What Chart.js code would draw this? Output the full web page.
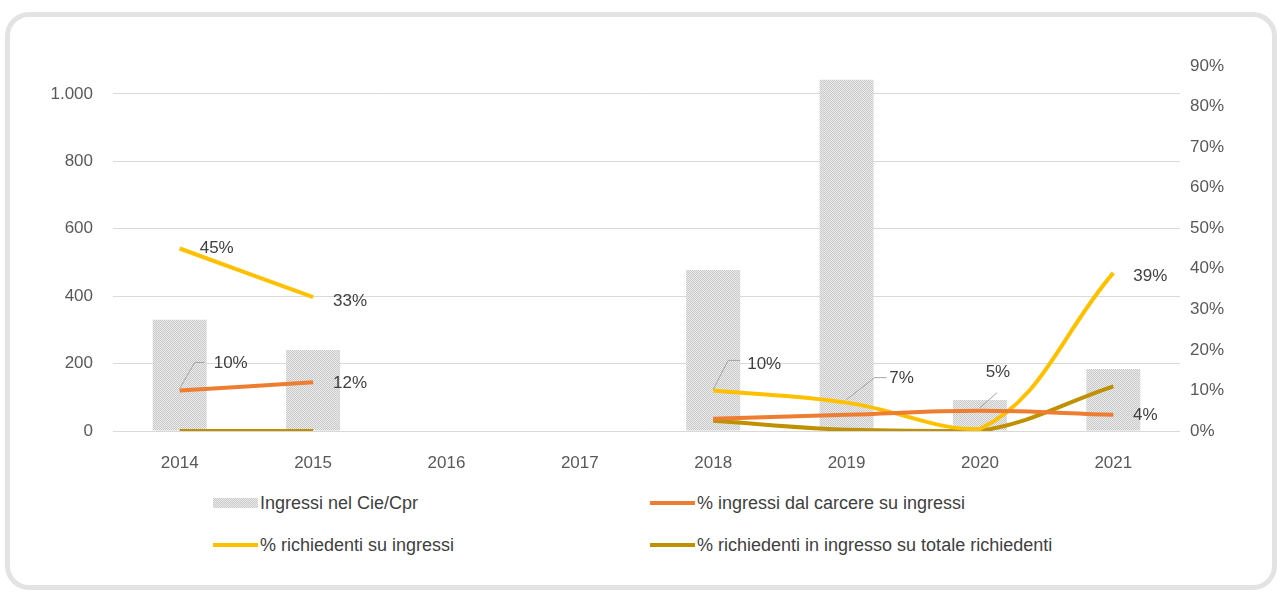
<!DOCTYPE html>
<html>
<head>
<meta charset="utf-8">
<script src="https://cdn.jsdelivr.net/npm/chart.js@4"></script>
<style>
  body { margin: 0; background: #fff; font-family: "Liberation Sans", Arial, sans-serif; }
  #card { position: absolute; left: 5px; top: 12px; width: 1262px; height: 568px; border: 5px solid #e3e3e3; border-radius: 24px; }
  #wrap { position: absolute; left: 0; top: 0; width: 1277px; height: 481px; }
  #legend { position: absolute; left: 0; top: 0; width: 1277px; }
  .item { position: absolute; display: flex; align-items: center; font-size: 18px; color: #404040; white-space: nowrap; }
  .sw { width: 45px; margin-right: 2px; }
</style>
</head>
<body>
<div id="card"></div>
<div id="wrap"><canvas id="myChart"></canvas></div>
<div id="legend"></div>
<script>
// data
var years = ['2014', '2015', '2016', '2017', '2018', '2019', '2020', '2021'];
var ingressi = [330, 240, null, null, 478, 1042, 92, 184];
var carcere = [10, 12, null, null, 3, 4, 5, 4];
var richiedenti = [45, 33, null, null, 10, 7, 0.5, 39];
var richiedentiTot = [0, 0, null, null, 2.5, 0.3, 0, 11];
var leftTicks = [0, 200, 400, 600, 800, 1000];

// dotted fill for the bars
var pc = document.createElement('canvas');
pc.width = 2; pc.height = 2;
var px = pc.getContext('2d');
px.fillStyle = '#ebebeb';
px.fillRect(0, 0, 2, 2);
px.fillStyle = '#c9c9c9';
px.fillRect(0, 0, 1, 1);
px.fillRect(1, 1, 1, 1);
var ctx = document.getElementById('myChart').getContext('2d');
var dots = ctx.createPattern(pc, 'repeat');

// which points carry a value label, and where it sits
var labelSpots = [
  { ds: 2, i: 0, dx: 37, dy: 0 },
  { ds: 2, i: 1, dx: 37, dy: 4 },
  { ds: 1, i: 0, dx: 51, dy: -27, leader: [[0, -2], [15, -28], [25, -28]] },
  { ds: 1, i: 1, dx: 37, dy: 1 },
  { ds: 2, i: 4, dx: 51, dy: -26, leader: [[0, -1], [15, -30], [27, -30]] },
  { ds: 2, i: 5, dx: 55, dy: -24, leader: [[0, -3], [28, -25], [40, -25]] },
  { ds: 1, i: 6, dx: 18, dy: -38, leader: [[0, -3], [17, -18]] },
  { ds: 2, i: 7, dx: 37, dy: 3 },
  { ds: 1, i: 7, dx: 32, dy: 1 }
];

var valueLabels = {
  id: 'valueLabels',
  afterDatasetsDraw: function (chart) {
    var c = chart.ctx;
    c.save();
    labelSpots.forEach(function (s) {
      var pt = chart.getDatasetMeta(s.ds).data[s.i];
      var v = chart.data.datasets[s.ds].data[s.i];
      if (s.leader) {
        c.strokeStyle = '#a6a6a6';
        c.lineWidth = 1;
        c.beginPath();
        s.leader.forEach(function (p, k) {
          if (k === 0) c.moveTo(pt.x + p[0], pt.y + p[1]);
          else c.lineTo(pt.x + p[0], pt.y + p[1]);
        });
        c.stroke();
      }
      c.fillStyle = '#404040';
      c.font = '17px "Liberation Sans", Arial, sans-serif';
      c.textAlign = 'center';
      c.textBaseline = 'middle';
      c.fillText(Math.round(v) + '%', pt.x + s.dx, pt.y + s.dy);
    });
    c.restore();
  }
};

var tickFont = { family: '"Liberation Sans", Arial, sans-serif', size: 17 };

var chart = new Chart(ctx, {
  data: {
    labels: years,
    datasets: [
      { type: 'bar', label: 'Ingressi nel Cie/Cpr', data: ingressi, yAxisID: 'y',
        backgroundColor: dots, barPercentage: 0.81, categoryPercentage: 0.5, order: 2 },
      { type: 'line', label: '% ingressi dal carcere su ingressi', data: carcere, yAxisID: 'y1',
        borderColor: '#ED7D31', borderWidth: 4, pointRadius: 0, tension: 0.4, order: 1 },
      { type: 'line', label: '% richiedenti su ingressi', data: richiedenti, yAxisID: 'y1',
        borderColor: '#FFC000', borderWidth: 4, pointRadius: 0, tension: 0.4, order: 1 },
      { type: 'line', label: '% richiedenti in ingresso su totale richiedenti', data: richiedentiTot, yAxisID: 'y1',
        borderColor: '#BF9000', borderWidth: 4, pointRadius: 0, tension: 0.4, order: 1 }
    ]
  },
  options: {
    responsive: true,
    maintainAspectRatio: false,
    animation: false,
    layout: { padding: { top: 66, left: 0, right: 0, bottom: 0 } },
    plugins: { legend: { display: false }, tooltip: { enabled: false } },
    scales: {
      x: {
        grid: { display: false, drawTicks: false },
        border: { display: false },
        ticks: { color: '#595959', font: tickFont, padding: 22 },
        afterFit: function (s) { s.height = 50; }
      },
      y: {
        position: 'left',
        min: 0, max: 1083,
        afterBuildTicks: function (s) { s.ticks = leftTicks.map(function (v) { return { value: v }; }); },
        grid: { color: '#d9d9d9', lineWidth: 1, drawTicks: false },
        border: { display: false },
        ticks: {
          color: '#595959', font: tickFont, padding: 20,
          callback: function (v) { return String(v).replace(/\B(?=(\d{3})+(?!\d))/g, '.'); }
        },
        afterFit: function (s) { s.width = 113; }
      },
      y1: {
        position: 'right',
        min: 0, max: 90,
        grid: { display: false, drawTicks: false },
        border: { display: false },
        ticks: { stepSize: 10, color: '#595959', font: tickFont, padding: 10,
          callback: function (v) { return v + '%'; } },
        afterFit: function (s) { s.width = 97; }
      }
    }
  },
  plugins: [valueLabels]
});

// legend in two columns, built from the datasets
var legendPos = [[213, 503], [650, 503], [213, 545], [650, 545]];
var legend = document.getElementById('legend');
chart.data.datasets.forEach(function (ds, k) {
  var it = document.createElement('div');
  it.className = 'item';
  it.style.left = legendPos[k][0] + 'px';
  it.style.top = (legendPos[k][1] - 11) + 'px';
  it.style.height = '22px';
  var sw = document.createElement('span');
  sw.className = 'sw';
  if (ds.type === 'bar') {
    sw.style.height = '10px';
    sw.style.backgroundImage = 'url(' + pc.toDataURL() + ')';
  } else {
    sw.style.height = '4px';
    sw.style.background = ds.borderColor;
  }
  it.appendChild(sw);
  it.appendChild(document.createTextNode(ds.label));
  legend.appendChild(it);
});
</script>
</body>
</html>
